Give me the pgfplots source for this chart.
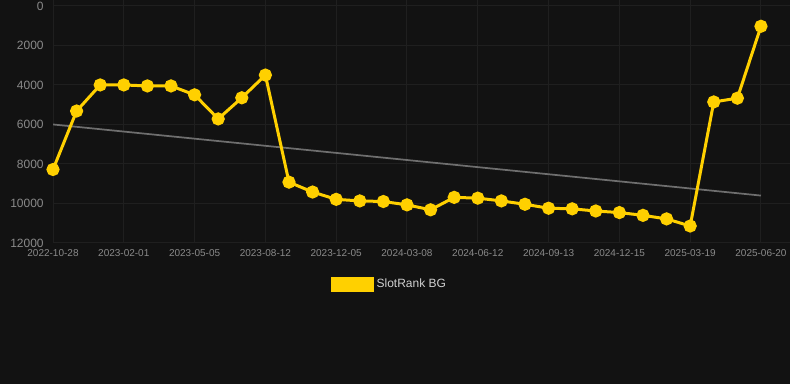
\documentclass[border=0pt]{standalone}
\usepackage{pgfplots}
\pgfplotsset{compat=1.18}
\usepackage{fontspec}
\setmainfont{Liberation Sans}
\definecolor{bg}{HTML}{121212}
\definecolor{gridc}{HTML}{1F1F1F}
\definecolor{tickc}{HTML}{8A8A8A}
\definecolor{gold}{HTML}{FFD000}
\definecolor{trend}{HTML}{6E6E6E}
\definecolor{legc}{HTML}{D0D0D0}
\begin{document}
\begin{tikzpicture}
\fill[bg] (0pt,0pt) rectangle (592.5pt,288pt);
\useasboundingbox (0pt,0pt) rectangle (592.5pt,288pt);
\begin{axis}[
  at={(39.75pt,105.75pt)}, anchor=south west,
  scale only axis, width=552.75pt, height=182.25pt,
  xmin=0, xmax=31.23, ymin=-300, ymax=12000, y dir=reverse,
  axis line style={draw=none},
  major tick style={draw=none},
  grid=major, grid style={gridc, line width=0.75pt},
  xtick={0,3,...,30},
  xticklabels={2022-10-28,2023-02-01,2023-05-05,2023-08-12,2023-12-05,2024-03-08,2024-06-12,2024-09-13,2024-12-15,2025-03-19,2025-06-20},
  ytick={0,2000,...,12000},
  scaled y ticks=false,
  /pgf/number format/assume math mode=true,
  /pgf/number format/set thousands separator={},
  x tick label style={font=\fontsize{7.5}{8}\selectfont, text=tickc, yshift=-1pt},
  y tick label style={font=\fontsize{9}{10}\selectfont, text=tickc, xshift=-3.5pt},
  legend style={at={(0.457,-0.169)}, anchor=center, draw=none, fill=none,
    font=\fontsize{9}{10}\selectfont, text=legc},
  legend cell align=left,
]
\addplot[trend, line width=1.3pt, forget plot] coordinates {(0,6000) (30,9600)};
\addplot[gold, line width=2.25pt, mark=*, mark size=3.8pt, mark options={solid, fill=gold, draw=none},
  legend image code/.code={\fill[gold] (0pt,-4.5pt) rectangle (30pt,4.5pt);}]
coordinates {
(0,8280) (1,5320) (2,4000) (3,4000) (4,4050) (5,4050) (6,4500) (7,5720) (8,4650) (9,3500)
(10,8920) (11,9420) (12,9790) (13,9870) (14,9900) (15,10070) (16,10320) (17,9690) (18,9730) (19,9870)
(20,10040) (21,10240) (22,10270) (23,10380) (24,10460) (25,10600) (26,10780) (27,11140) (28,4860) (29,4670) (30,1030)
};
\addlegendentry{SlotRank BG}
\end{axis}
\end{tikzpicture}
\end{document}
